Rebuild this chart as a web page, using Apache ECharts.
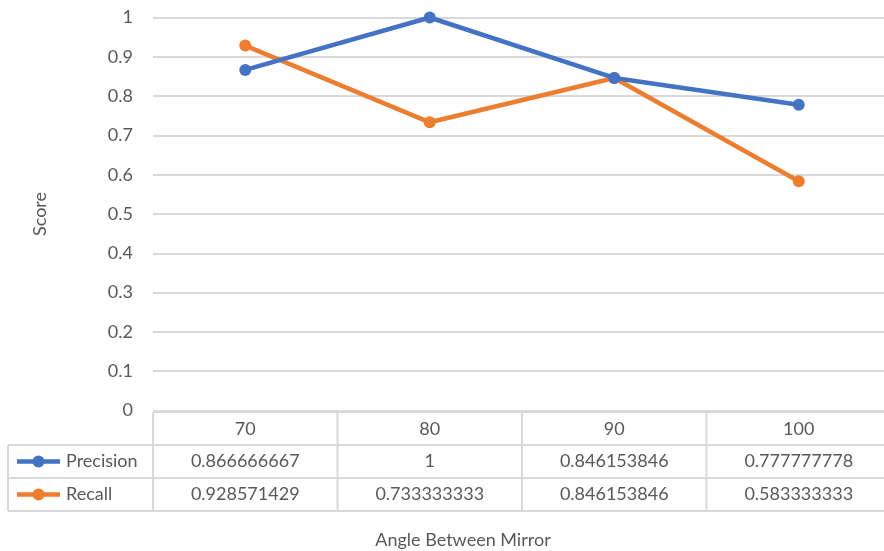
<!DOCTYPE html>
<html>
<head>
<meta charset="utf-8">
<script src="https://cdn.jsdelivr.net/npm/echarts@6/dist/echarts.min.js"></script>
<style>
  html, body { margin: 0; padding: 0; background: #fff; overflow: hidden; }
  /* the plot and table run a few pixels past the right edge of the view */
  #chart { width: 891px; height: 551px; }
</style>
</head>
<body>
<div id="chart"></div>
<script>
// Angle categories and measured scores
const angles = ['70', '80', '90', '100'];
const precision = [0.866666667, 1, 0.846153846, 0.777777778];
const recall = [0.928571429, 0.733333333, 0.846153846, 0.583333333];
const seriesNames = ['Precision', 'Recall'];
const seriesColors = ['#4472C4', '#ED7D31'];
const yTicks = { min: 0, max: 1, interval: 0.1 };

const FONT = 'Lato';
const FS = 18;
const TEXT = '#595959';
const RULE = '#d9d9d9';

const chart = echarts.init(document.getElementById('chart'));

chart.setOption({
  animation: false,
  backgroundColor: '#fff',
  textStyle: { fontFamily: FONT },
  grid: { left: 153, top: 17.5, right: 0, height: 393, containLabel: false },
  xAxis: {
    type: 'category',
    data: angles,
    boundaryGap: true,
    axisLine: { show: false },
    axisTick: { show: false },
    axisLabel: { color: TEXT, fontSize: FS, fontFamily: FONT, margin: 10 }
  },
  yAxis: {
    type: 'value',
    min: yTicks.min,
    max: yTicks.max,
    interval: yTicks.interval,
    name: 'Score',
    nameLocation: 'middle',
    nameGap: 104,
    nameRotate: 90,
    nameTextStyle: { color: TEXT, fontSize: FS, fontFamily: FONT },
    axisLine: { show: false },
    axisTick: { show: false },
    axisLabel: { color: TEXT, fontSize: FS, fontFamily: FONT, margin: 20 },
    splitLine: { lineStyle: { color: RULE, width: 2 } }
  },
  series: [
    {
      name: seriesNames[0], type: 'line', data: precision,
      color: seriesColors[0], symbol: 'circle', symbolSize: 12,
      lineStyle: { width: 4.5 }, z: 3
    },
    {
      name: seriesNames[1], type: 'line', data: recall,
      color: seriesColors[1], symbol: 'circle', symbolSize: 12,
      lineStyle: { width: 4.5 }, z: 2
    }
  ]
});

// Data table under the plot: borders, legend keys and value cells
function buildTable() {
  const c0 = chart.convertToPixel({ xAxisIndex: 0 }, angles[0]);
  const c1 = chart.convertToPixel({ xAxisIndex: 0 }, angles[1]);
  const band = c1 - c0;
  const xL = c0 - band / 2;
  const xR = xL + band * angles.length;
  const y0 = chart.convertToPixel({ yAxisIndex: 0 }, 0) + 1.5;
  const rowH = 33;
  const rowTop = y0 + rowH;
  const yB = rowTop + rowH * 2;
  const keyLeft = 8;

  const els = [];
  const line = (x1, y1, x2, y2) => els.push({
    type: 'line', shape: { x1, y1, x2, y2 },
    style: { stroke: RULE, lineWidth: 2 }, z: 1
  });

  line(xL, y0, xR, y0);
  [rowTop, rowTop + rowH, yB].forEach(y => line(keyLeft, y, xR, y));
  line(keyLeft, rowTop, keyLeft, yB);
  for (let i = 0; i <= angles.length; i++) {
    line(xL + band * i, y0, xL + band * i, yB);
  }

  [precision, recall].forEach((vals, r) => {
    const cy = rowTop + rowH * r + rowH / 2;
    els.push({
      type: 'line', shape: { x1: 17, y1: cy, x2: 60, y2: cy },
      style: { stroke: seriesColors[r], lineWidth: 4.5 }, z: 2
    });
    els.push({
      type: 'circle', shape: { cx: 38.5, cy: cy, r: 6 },
      style: { fill: seriesColors[r] }, z: 3
    });
    els.push({
      type: 'text', x: 66, y: cy,
      style: { text: seriesNames[r], fill: TEXT, font: FS + 'px ' + FONT,
               textAlign: 'left', textVerticalAlign: 'middle' }, z: 3
    });
    vals.forEach((v, i) => {
      els.push({
        type: 'text', x: xL + band * i + band / 2, y: cy,
        style: { text: String(v), fill: TEXT, font: FS + 'px ' + FONT,
                 textAlign: 'center', textVerticalAlign: 'middle' }, z: 3
      });
    });
  });

  els.push({
    type: 'text', x: 463, y: 540,
    style: { text: 'Angle Between Mirror', fill: TEXT, font: FS + 'px ' + FONT,
             textAlign: 'center', textVerticalAlign: 'middle' }
  });

  chart.setOption({ graphic: els });
}
buildTable();
</script>
</body>
</html>
